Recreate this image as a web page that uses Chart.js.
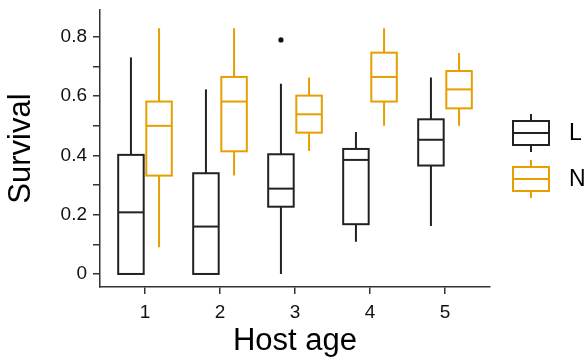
<!DOCTYPE html>
<html>
<head>
<meta charset="utf-8">
<script src="https://cdn.jsdelivr.net/npm/chart.js@4/dist/chart.umd.min.js"></script>
<style>
  html, body { margin: 0; padding: 0; background: #fff; }
  canvas { display: block; }
</style>
</head>
<body>
<canvas id="box" width="585" height="360"></canvas>
<script>
// host age categories
var categories = [1, 2, 3, 4, 5];

// L group: whisker low, Q1, median, Q3, whisker high
var lowL  = [0, 0, 0, 0.109, 0.162];
var q1L   = [0, 0, 0.227, 0.168, 0.366];
var medL  = [0.208, 0.160, 0.288, 0.385, 0.453];
var q3L   = [0.402, 0.340, 0.404, 0.422, 0.522];
var highL = [0.731, 0.623, 0.642, 0.479, 0.663];
var outlierAgeL = [3];
var outlierValL = [0.79];

// N group
var lowN  = [0.090, 0.332, 0.415, 0.500, 0.500];
var q1N   = [0.332, 0.414, 0.477, 0.582, 0.559];
var medN  = [0.500, 0.582, 0.539, 0.665, 0.623];
var q3N   = [0.582, 0.665, 0.602, 0.747, 0.685];
var highN = [0.829, 0.829, 0.663, 0.829, 0.746];

var yTicks = [0, 0.2, 0.4, 0.6, 0.8];

var BLACK = '#222222';
var ORANGE = '#E69F00';
var FONT = '"Liberation Sans", Arial, sans-serif';
var DODGE = 0.1875;
var HALF = 0.17;

var groups = [
    { name: 'L', color: BLACK, off: -DODGE, low: lowL, q1: q1L, med: medL, q3: q3L, high: highL },
    { name: 'N', color: ORANGE, off: DODGE, low: lowN, q1: q1N, med: medN, q3: q3N, high: highN }
];

var boxPlugin = {
    id: 'boxes',
    afterDatasetsDraw: function (chart) {
        var ctx = chart.ctx;
        var x = chart.scales.x, y = chart.scales.y;
        ctx.save();
        groups.forEach(function (g) {
            ctx.strokeStyle = g.color;
            ctx.lineWidth = 2;
            categories.forEach(function (c, i) {
                var cx = x.getPixelForValue(c + g.off);
                var l = x.getPixelForValue(c + g.off - HALF);
                var r = x.getPixelForValue(c + g.off + HALF);
                var yLow = y.getPixelForValue(g.low[i]);
                var yQ1 = y.getPixelForValue(g.q1[i]);
                var yMed = y.getPixelForValue(g.med[i]);
                var yQ3 = y.getPixelForValue(g.q3[i]);
                var yHigh = y.getPixelForValue(g.high[i]);
                ctx.beginPath();
                ctx.moveTo(cx, yHigh); ctx.lineTo(cx, yQ3);
                ctx.moveTo(cx, yQ1); ctx.lineTo(cx, yLow);
                ctx.stroke();
                ctx.strokeRect(l, yQ3, r - l, yQ1 - yQ3);
                ctx.beginPath();
                ctx.moveTo(l, yMed); ctx.lineTo(r, yMed);
                ctx.stroke();
            });
        });
        ctx.restore();
    },
    afterDraw: function (chart) {
        // legend keys on the right
        var ctx = chart.ctx;
        ctx.save();
        var keys = [{ g: groups[0], top: 114 }, { g: groups[1], top: 160 }];
        keys.forEach(function (k) {
            var t = k.top;
            ctx.strokeStyle = k.g.color;
            ctx.lineWidth = 2;
            ctx.beginPath();
            ctx.moveTo(531, t); ctx.lineTo(531, t + 7);
            ctx.moveTo(531, t + 31); ctx.lineTo(531, t + 38);
            ctx.moveTo(513, t + 19); ctx.lineTo(549, t + 19);
            ctx.stroke();
            ctx.strokeRect(513, t + 7, 36, 24);
            ctx.fillStyle = '#000';
            ctx.font = '23px ' + FONT;
            ctx.textBaseline = 'middle';
            ctx.textAlign = 'left';
            ctx.fillText(k.g.name, 569, t + 20);
        });
        ctx.restore();
    }
};

new Chart(document.getElementById('box'), {
    type: 'scatter',
    data: {
        datasets: [{
            label: 'L outliers',
            data: outlierAgeL.map(function (a, i) { return { x: a - DODGE, y: outlierValL[i] }; }),
            pointRadius: 2.6,
            backgroundColor: '#111',
            borderWidth: 0
        }]
    },
    options: {
        responsive: false,
        animation: false,
        devicePixelRatio: 1,
        layout: { padding: { top: 10, right: 95, left: 0, bottom: 0 } },
        plugins: { legend: { display: false }, tooltip: { enabled: false } },
        scales: {
            x: {
                type: 'linear',
                min: 0.4,
                max: 5.6,
                afterFit: function (s) { s.height = 73; s.paddingLeft = 0; s.paddingRight = 0; },
                ticks: {
                    stepSize: 1,
                    includeBounds: false,
                    color: '#111',
                    padding: 7,
                    font: { family: FONT, size: 19 },
                    callback: function (v) { return categories.indexOf(v) >= 0 ? String(v) : ''; }
                },
                grid: { drawOnChartArea: false, drawTicks: true, tickLength: 7, color: '#333', lineWidth: 1.5 },
                border: { color: '#333', width: 1.5 },
                title: {
                    display: true,
                    text: 'Host age',
                    color: '#000',
                    font: { family: FONT, size: 31 },
                    padding: { top: 0, bottom: 0 }
                }
            },
            y: {
                min: -0.044,
                max: 0.891,
                afterFit: function (s) { s.width = 100; s.paddingTop = 0; s.paddingBottom = 0; },
                ticks: {
                    stepSize: 0.1,
                    includeBounds: false,
                    color: '#111',
                    padding: 6,
                    font: { family: FONT, size: 19 },
                    callback: function (v) {
                        var k = Math.round(v * 10) / 10;
                        return yTicks.indexOf(k) >= 0 ? String(k) : '';
                    }
                },
                grid: { drawOnChartArea: false, drawTicks: true, tickLength: 7, color: '#333', lineWidth: 1.5 },
                border: { color: '#333', width: 1.5 },
                title: {
                    display: true,
                    text: 'Survival',
                    color: '#000',
                    font: { family: FONT, size: 31 },
                    padding: { top: 3, bottom: 0 }
                }
            }
        }
    },
    plugins: [boxPlugin]
});
</script>
</body>
</html>
